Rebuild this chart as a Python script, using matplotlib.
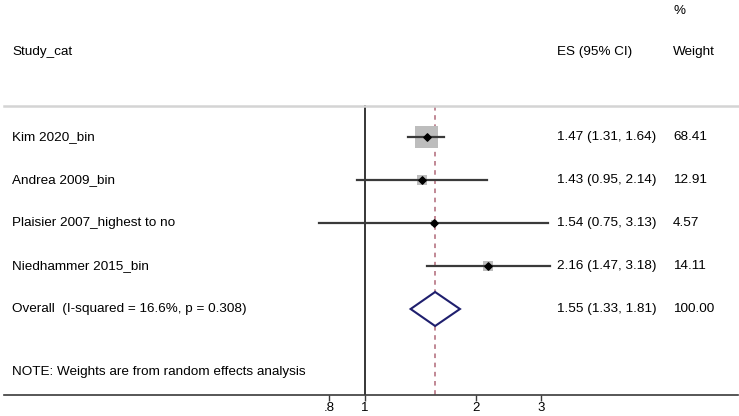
import matplotlib
matplotlib.use("Agg")
import matplotlib.pyplot as plt
from matplotlib.patches import Polygon
import numpy as np

plt.rcParams['font.family'] = ['Liberation Sans', 'DejaVu Sans']

studies = ["Kim 2020_bin", "Andrea 2009_bin", "Plaisier 2007_highest to no", "Niedhammer 2015_bin"]
es = [1.47, 1.43, 1.54, 2.16]
lo = [1.31, 0.95, 0.75, 1.47]
hi = [1.64, 2.14, 3.13, 3.18]
weights = [68.41, 12.91, 4.57, 14.11]

overall_label = "Overall  (I-squared = 16.6%, p = 0.308)"
overall_es, overall_lo, overall_hi = 1.55, 1.33, 1.81
overall_weight = 100.00
note = "NOTE: Weights are from random effects analysis"

xticks = [0.8, 1, 2, 3]
xticklabels = [".8", "1", "2", "3"]

W, H = 739, 416
fig = plt.figure(figsize=(W / 100, H / 100), dpi=100)
ax_left_px, ax_right_px = 4, 738
ax_bottom_px = 395
ax = fig.add_axes([ax_left_px / W, (H - ax_bottom_px) / H, (ax_right_px - ax_left_px) / W, ax_bottom_px / H])

# pixel mapping: x_px = 365 + 160*ln(x)
xmin = np.exp((ax_left_px - 365) / 160)
xmax = np.exp((ax_right_px - 365) / 160)
ax.set_xscale('log')
ax.set_xlim(xmin, xmax)
ytop = -137 / 43
ybot = (ax_bottom_px - 137) / 43
ax.set_ylim(ybot, ytop)

def fx(px):
    return (px - ax_left_px) / (ax_right_px - ax_left_px)

fs = 9.7
tr = ax.get_yaxis_transform()

header_y = (52 - 137) / 43
pct_y = (11 - 137) / 43
line_y = (106 - 137) / 43
ax.text(fx(12), header_y, "Study_cat", transform=tr, fontsize=fs, va='center', ha='left')
ax.text(fx(557), header_y, "ES (95% CI)", transform=tr, fontsize=fs, va='center', ha='left')
ax.text(fx(673), header_y, "Weight", transform=tr, fontsize=fs, va='center', ha='left')
ax.text(fx(673), pct_y, "%", transform=tr, fontsize=fs, va='center', ha='left')
ax.plot([0, 1], [line_y, line_y], transform=tr, color='#d4d4d4', lw=1.8, clip_on=False)

ax.plot([1, 1], [line_y, ybot], color='black', lw=1.1, zorder=1)
ax.plot([overall_es, overall_es], [line_y, ybot], color='#b06878', lw=1.1, ls=(0, (3, 3)), zorder=1)

ys = np.arange(len(studies))
box_s = 274 * np.array(weights) / weights[0]
ax.scatter(es, ys, s=box_s, marker='s', color='#bdbdbd', edgecolors='none', zorder=2)
for y, l, h in zip(ys, lo, hi):
    ax.plot([l, h], [y, y], color='#3a3a3a', lw=1.6, zorder=3)
ax.scatter(es, ys, s=14, marker='D', color='black', zorder=4)

for y, name, e, l, h, w in zip(ys, studies, es, lo, hi, weights):
    ax.text(fx(12), y, name, transform=tr, fontsize=fs, va='center', ha='left')
    ax.text(fx(557), y, f"{e:.2f} ({l:.2f}, {h:.2f})", transform=tr, fontsize=fs, va='center', ha='left')
    ax.text(fx(673), y, f"{w:.2f}", transform=tr, fontsize=fs, va='center', ha='left')

oy = len(studies)
dh = 17 / 43
diamond = Polygon([(overall_lo, oy), (overall_es, oy - dh), (overall_hi, oy), (overall_es, oy + dh)],
                  closed=True, facecolor='white', edgecolor='#1f1f6e', lw=1.5, zorder=5)
ax.add_patch(diamond)
ax.text(fx(12), oy, overall_label, transform=tr, fontsize=fs, va='center', ha='left')
ax.text(fx(557), oy, f"{overall_es:.2f} ({overall_lo:.2f}, {overall_hi:.2f})", transform=tr, fontsize=fs, va='center', ha='left')
ax.text(fx(673), oy, f"{overall_weight:.2f}", transform=tr, fontsize=fs, va='center', ha='left')

note_y = (372 - 137) / 43
ax.text(fx(12), note_y, note, transform=tr, fontsize=fs, va='center', ha='left')

for s in ['left', 'right', 'top']:
    ax.spines[s].set_visible(False)
ax.spines['bottom'].set_color('#3a3a3a')
ax.spines['bottom'].set_linewidth(1.2)
ax.set_yticks([])
ax.set_xticks(xticks)
ax.set_xticklabels(xticklabels)
ax.xaxis.set_minor_locator(matplotlib.ticker.NullLocator())
ax.tick_params(axis='x', length=4, width=1, color='#3a3a3a', labelsize=9.5, pad=1)

fig.savefig("out.png", dpi=100, facecolor='white')
